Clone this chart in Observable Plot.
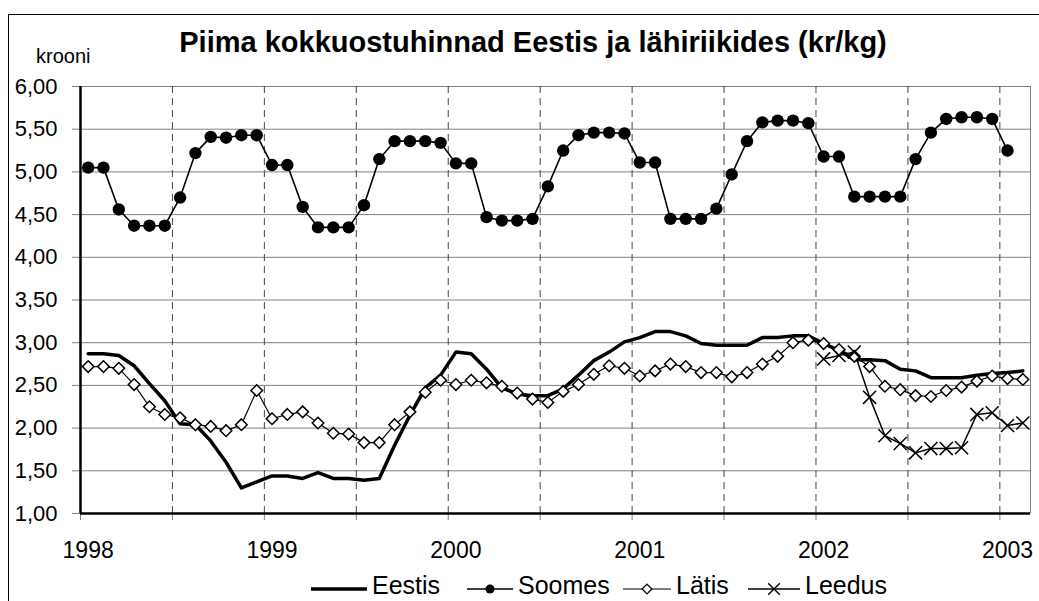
<!DOCTYPE html>
<html>
<head>
<meta charset="utf-8">
<script src="https://cdn.jsdelivr.net/npm/d3@7"></script>
<script src="https://cdn.jsdelivr.net/npm/@observablehq/plot@0.6"></script>
<style>
  html, body { margin: 0; padding: 0; background: #fff; }
  #wrap { position: relative; width: 1039px; height: 601px; overflow: hidden; font-family: "Liberation Sans", Arial, sans-serif; }
  #chart { position: absolute; left: 0; top: 0; }
  #frame { position: absolute; left: 8px; top: 14px; width: 1200px; height: 800px; border-left: 1px solid #000; border-top: 1px solid #000; pointer-events: none; }
  .overlay { position: absolute; left: 0; pointer-events: none; }
</style>
</head>
<body>
<div id="wrap">
  <div id="chart"></div>
  <div id="frame"></div>
  <svg id="head" class="overlay" style="top:0" width="1039" height="86"></svg>
  <svg id="legend" class="overlay" style="top:565px" width="1039" height="36"></svg>
</div>
<script>
// ---- data ----
const title = "Piima kokkuostuhinnad Eestis ja lähiriikides (kr/kg)";
const unitLabel = "krooni";
const years = [1998, 1999, 2000, 2001, 2002, 2003];
const yearLabels = ["1998", "1999", "2000", "2001", "2002", "2003"];
const seriesNames = ["Eestis", "Soomes", "Lätis", "Leedus"];
const yTicks = [1, 1.5, 2, 2.5, 3, 3.5, 4, 4.5, 5, 5.5, 6];

// monthly categories Jan 1998 – Feb 2003
const months = [];
for (const y of years) for (let m = 1; m <= 12; m++) months.push(y + "-" + String(m).padStart(2, "0"));
months.length = 62;

const eestis = [
  2.87, 2.87, 2.85, 2.73, 2.52, 2.32, 2.05, 2.04, 1.85, 1.60, 1.30, 1.37,
  1.44, 1.44, 1.41, 1.48, 1.41, 1.41, 1.39, 1.41, 1.80, 2.15, 2.47, 2.62,
  2.89, 2.87, 2.69, 2.47, 2.40, 2.38, 2.38, 2.46, 2.62, 2.79, 2.89, 3.01,
  3.06, 3.13, 3.13, 3.08, 2.99, 2.97, 2.97, 2.97, 3.06, 3.06, 3.08, 3.08,
  2.99, 2.91, 2.80, 2.80, 2.79, 2.69, 2.67, 2.59, 2.59, 2.59, 2.62, 2.64,
  2.65, 2.67
];
const soomes = [
  5.05, 5.05, 4.56, 4.37, 4.37, 4.37, 4.70, 5.22, 5.41, 5.40, 5.43, 5.43,
  5.08, 5.08, 4.59, 4.35, 4.35, 4.35, 4.61, 5.15, 5.36, 5.36, 5.36, 5.34,
  5.10, 5.10, 4.47, 4.43, 4.43, 4.45, 4.83, 5.25, 5.43, 5.46, 5.46, 5.45,
  5.11, 5.11, 4.45, 4.45, 4.45, 4.57, 4.97, 5.36, 5.58, 5.60, 5.60, 5.57,
  5.18, 5.18, 4.71, 4.71, 4.71, 4.71, 5.15, 5.46, 5.62, 5.64, 5.64, 5.62,
  5.25, null
];
const latis = [
  2.72, 2.72, 2.70, 2.51, 2.25, 2.16, 2.12, 2.04, 2.02, 1.97, 2.04, 2.44,
  2.11, 2.16, 2.19, 2.06, 1.94, 1.93, 1.83, 1.83, 2.04, 2.19, 2.42, 2.56,
  2.51, 2.56, 2.53, 2.49, 2.41, 2.34, 2.30, 2.43, 2.51, 2.63, 2.73, 2.70,
  2.61, 2.67, 2.75, 2.72, 2.65, 2.65, 2.60, 2.65, 2.75, 2.84, 3.00, 3.03,
  2.99, 2.92, 2.84, 2.72, 2.49, 2.45, 2.38, 2.37, 2.44, 2.48, 2.55, 2.61,
  2.58, 2.57
];
const leedus = [
  null, null, null, null, null, null, null, null, null, null, null, null,
  null, null, null, null, null, null, null, null, null, null, null, null,
  null, null, null, null, null, null, null, null, null, null, null, null,
  null, null, null, null, null, null, null, null, null, null, null, null,
  2.81, 2.85, 2.89, 2.36, 1.91, 1.82, 1.71, 1.76, 1.76, 1.77, 2.16, 2.18,
  2.03, 2.06
];

// ---- table ----
const rows = months.map((m, i) => ({ i, month: m, eestis: eestis[i], soomes: soomes[i], latis: latis[i], leedus: leedus[i] }));
const n = months.length;
const boundaries = d3.range(-0.5, n - 1, 6);          // category boundaries every 6 months
const innerBoundaries = boundaries.slice(1);
const yearIdx = yearLabels.map(y => months.indexOf(y + "-01"));
const fmt = d => d.toFixed(2).replace(".", ",");
const FONT = "Liberation Sans, Arial, sans-serif";

const chart = Plot.plot({
  width: 1039,
  height: 565,
  marginLeft: 80,
  marginRight: 9,
  marginTop: 86,
  marginBottom: 52,
  x: { domain: [-0.5, n - 0.5] },
  y: { domain: [1, 6] },
  style: { fontFamily: FONT, fontSize: "22px", background: "transparent", color: "black", overflow: "visible" },
  marks: [
    Plot.ruleY(yTicks, { stroke: "#808080", strokeWidth: 1 }),
    Plot.ruleX(innerBoundaries, { y1: 1, y2: 6, stroke: "#444", strokeDasharray: "7,5", strokeWidth: 1 }),
    Plot.ruleX([n - 0.5], { y1: 1, y2: 6, stroke: "#808080" }),
    Plot.axisY({ ticks: yTicks, tickSize: 8, tickPadding: 15, stroke: "#808080", fill: "black", tickFormat: fmt, label: null, fontSize: 22 }),
    Plot.axisX({ ticks: boundaries, tickSize: 7, stroke: "#808080", tickFormat: () => "", label: null }),
    Plot.axisX({ ticks: yearIdx, tickSize: 0, tickPadding: 28, fill: "black", tickFormat: i => yearLabels[yearIdx.indexOf(i)], label: null, fontSize: 23 }),
    // Lätis
    Plot.line(rows, { x: "i", y: "latis", stroke: "black", strokeWidth: 1.2 }),
    // Leedus
    Plot.line(rows, { x: "i", y: "leedus", stroke: "black", strokeWidth: 1.5 }),
    // Eestis
    Plot.line(rows, { x: "i", y: "eestis", stroke: "black", strokeWidth: 3.5 }),
    // Soomes
    Plot.line(rows, { x: "i", y: "soomes", stroke: "black", strokeWidth: 1.6 }),
    Plot.dot(rows, { x: "i", y: "soomes", r: 6.2, fill: "black" }),
    Plot.dot(rows, { x: "i", y: "latis", symbol: "diamond2", r: 5.2, fill: "white", stroke: "black", strokeWidth: 1.5 }),
    Plot.dot(rows, { x: "i", y: "leedus", symbol: "times", r: 6, stroke: "black", strokeWidth: 1.5 }),
    // axes lines
    Plot.ruleX([-0.5], { y1: 1, y2: 6, stroke: "black", strokeWidth: 2.5 }),
    Plot.ruleY([1], { stroke: "black", strokeWidth: 2.5 })
  ]
});
document.getElementById("chart").appendChild(chart);

// ---- title & unit ----
const head = d3.select("#head");
head.append("text").attr("x", 533).attr("y", 52).attr("text-anchor", "middle")
  .attr("font-family", FONT).attr("font-weight", "bold").attr("font-size", 29).text(title);
head.append("text").attr("x", 36).attr("y", 63).attr("font-family", FONT).attr("font-size", 20).text(unitLabel);

// ---- legend ----
const lg = d3.select("#legend");
const ly = 24, ty = 29;
const items = [
  { name: seriesNames[0], x1: 311, x2: 367, w: 3.5, sym: null },
  { name: seriesNames[1], x1: 467, x2: 513, w: 1.5, sym: "circle" },
  { name: seriesNames[2], x1: 623, x2: 671, w: 1.2, sym: "diamond" },
  { name: seriesNames[3], x1: 748, x2: 800, w: 1.5, sym: "times" }
];
for (const it of items) {
  lg.append("line").attr("x1", it.x1).attr("x2", it.x2).attr("y1", ly).attr("y2", ly)
    .attr("stroke", "black").attr("stroke-width", it.w);
  const cx = (it.x1 + it.x2) / 2;
  if (it.sym === "circle") lg.append("circle").attr("cx", cx).attr("cy", ly).attr("r", 4.5).attr("fill", "black");
  if (it.sym === "diamond") lg.append("path").attr("d", d3.symbol(d3.symbolDiamond2, 60)()).attr("transform", `translate(${cx},${ly})`).attr("fill", "white").attr("stroke", "black").attr("stroke-width", 1.3);
  if (it.sym === "times") lg.append("path").attr("d", d3.symbol(d3.symbolTimes, 90)()).attr("transform", `translate(${cx},${ly})`).attr("fill", "none").attr("stroke", "black").attr("stroke-width", 1.4);
  lg.append("text").attr("x", it.x2 + 5).attr("y", ty).attr("font-family", FONT).attr("font-size", 25).text(it.name);
}
</script>
</body>
</html>
